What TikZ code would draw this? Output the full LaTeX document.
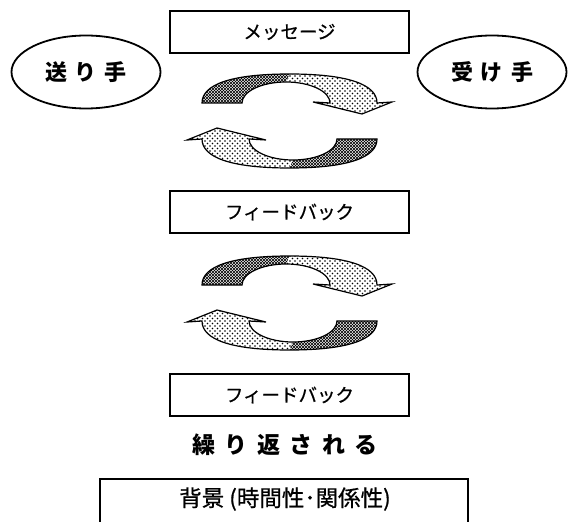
\documentclass[tikz,border=0pt]{standalone}
\usepackage{fontspec}
\newfontfamily\jp{Noto Sans CJK JP}
\newfontfamily\jpm{Noto Sans CJK JP}[FakeBold=0.7]
\usetikzlibrary{patterns,shapes.geometric}
\pgfdeclarepatternformonly{darkmesh}{\pgfqpoint{-1pt}{-1pt}}{\pgfqpoint{4pt}{4pt}}{\pgfqpoint{3pt}{3pt}}{%
  \pgfsetlinewidth{0.6pt}%
  \pgfpathmoveto{\pgfqpoint{0pt}{0pt}}\pgfpathlineto{\pgfqpoint{3.1pt}{3.1pt}}%
  \pgfpathmoveto{\pgfqpoint{0pt}{3pt}}\pgfpathlineto{\pgfqpoint{3.1pt}{-0.1pt}}%
  \pgfusepath{stroke}}
\pgfdeclarepatternformonly{lightdots}{\pgfqpoint{-1pt}{-1pt}}{\pgfqpoint{6pt}{6pt}}{\pgfqpoint{5pt}{5pt}}{%
  \pgfpathcircle{\pgfqpoint{0pt}{0pt}}{0.8pt}%
  \pgfpathcircle{\pgfqpoint{2.5pt}{2.5pt}}{0.8pt}%
  \pgfusepath{fill}}
\tikzset{
  msgbox/.style={draw, line width=1.3pt, minimum width=239pt, minimum height=42pt, inner sep=0pt,
    font=\jpm\fontsize{18.5}{20}\selectfont},
  party/.style={draw, ellipse, line width=1.8pt, minimum width=149pt, minimum height=73pt, inner sep=0pt,
    font=\jp\bfseries\fontsize{22}{24}\selectfont},
  boldlabel/.style={inner sep=0pt, font=\jp\bfseries\fontsize{23}{25}\selectfont},
  bglabel/.style={inner sep=0pt, font=\jpm\fontsize{22.5}{24}\selectfont},
  boxline/.style={draw, line width=1.3pt},
  arrowline/.style={draw, line width=1.2pt},
  halfarrow/.pic={
    % dark back part: tail to top
    \fill[pattern=darkmesh] (-87.5,-18) .. controls (-87.5,-37) and (-57,-47) .. (0,-47)
      -- (-3.5,-39) arc[start angle=270,end angle=180,x radius=44,y radius=21] -- cycle;
    % light front part: top to arrowhead
    \fill[pattern=lightdots] (0,-47) .. controls (57,-47) and (87.5,-37) .. (87.5,-18)
      -- (102.5,-19) -- (72.5,-7) -- (23.5,-19) -- (40.5,-18)
      arc[start angle=360,end angle=270,x radius=44,y radius=21] -- cycle;
    % outline
    \draw[arrowline] (-87.5,-18) .. controls (-87.5,-37) and (-57,-47) .. (0,-47)
      .. controls (57,-47) and (87.5,-37) .. (87.5,-18)
      -- (102.5,-19) -- (72.5,-7) -- (23.5,-19) -- (40.5,-18)
      arc[start angle=360,end angle=180,x radius=44,y radius=21] -- cycle;
  }
}
\begin{document}
\begin{tikzpicture}[x=1pt,y=-1pt]
\useasboundingbox (0,0) rectangle (569,521);
\clip (0,0) rectangle (569,521);
% boxes
\node[msgbox] (msg) at (289.5,32) {メッセージ};
\node[msgbox] (fb1) at (289.5,212) {フィードバック};
\node[msgbox] (fb2) at (289.5,395) {フィードバック};
% parties
\node[party] (sender) at (86,72) {送\hspace{8pt}り\hspace{8pt}手};
\node[party] (receiver) at (492,72) {受\hspace{8pt}け\hspace{8pt}手};
% cycle arrows
\pic at (289.5,121) {halfarrow};
\pic[rotate=180] at (289.5,121) {halfarrow};
\pic at (289.5,303) {halfarrow};
\pic[rotate=180] at (289.5,303) {halfarrow};
% repeat label
\node[boldlabel] (rep) at (285,445) {繰\hspace{9.5pt}り\hspace{9.5pt}返\hspace{9.5pt}さ\hspace{9.5pt}れ\hspace{9.5pt}る};
% background box
\draw[boxline] (100,479) rectangle (468,545);
\node[bglabel] (bg) at (285,499) {背景\hspace{5pt}(時間性･関係性)};
\end{tikzpicture}
\end{document}
